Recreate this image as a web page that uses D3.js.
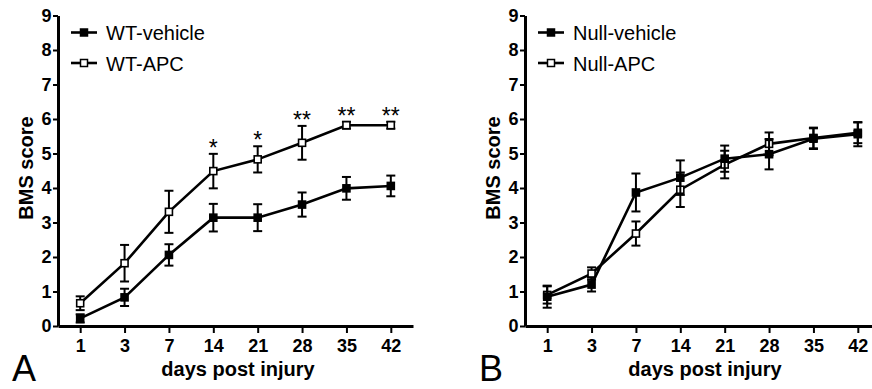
<!DOCTYPE html>
<html>
<head>
<meta charset="utf-8">
<script src="https://cdn.jsdelivr.net/npm/d3@7"></script>
<style>
  body { margin: 0; background: #fff; }
  svg { display: block; font-family: "Liberation Sans", Arial, sans-serif; }
</style>
</head>
<body>
<div id="chart"></div>
<script>
var days = ["1", "3", "7", "14", "21", "28", "35", "42"];
var yTicks = [0, 1, 2, 3, 4, 5, 6, 7, 8, 9];

var wtVehicle = [0.22, 0.83, 2.06, 3.14, 3.14, 3.52, 3.99, 4.06];
var wtVehicleErr = [0.12, 0.25, 0.31, 0.4, 0.39, 0.35, 0.33, 0.3];
var wtApc = [0.66, 1.82, 3.31, 4.49, 4.83, 5.31, 5.82, 5.82];
var wtApcErr = [0.2, 0.53, 0.61, 0.5, 0.38, 0.49, 0.1, 0.1];
var wtStars = ["", "", "", "*", "*", "**", "**", "**"];

var nullVehicle = [0.85, 1.2, 3.87, 4.3, 4.85, 4.98, 5.43, 5.56];
var nullVehicleErr = [0.32, 0.2, 0.55, 0.5, 0.38, 0.44, 0.3, 0.35];
var nullApc = [0.9, 1.52, 2.68, 3.95, 4.68, 5.28, 5.45, 5.6];
var nullApcErr = [0.25, 0.18, 0.35, 0.5, 0.4, 0.33, 0.3, 0.3];

var svgWidth = 872;
var svgHeight = 389;

var svg = d3.select("#chart")
  .append("svg")
  .attr("width", svgWidth)
  .attr("height", svgHeight);

function drawPanel(opts) {
  var left = opts.left;
  var g = svg.append("g");

  var xScale = d3.scalePoint()
    .domain(days)
    .range([left, left + 355])
    .padding(0.5);
  var yScale = d3.scaleLinear()
    .domain([0, 9])
    .range([326, 15.5]);

  // series: draw APC first so vehicle sits on top where they overlap
  opts.series.forEach(function(s) {
    var pts = days.map(function(d, i) {
      return { day: d, v: s.values[i], e: s.errs[i] };
    });

    var eb = g.append("g");
    eb.selectAll("line.v").data(pts).enter().append("line")
      .attr("x1", d => xScale(d.day)).attr("x2", d => xScale(d.day))
      .attr("y1", d => yScale(d.v + d.e)).attr("y2", d => yScale(d.v - d.e))
      .attr("stroke", "#000").attr("stroke-width", 2);
    [1, -1].forEach(function(sign) {
      eb.selectAll("line.c" + sign).data(pts).enter().append("line")
        .attr("x1", d => xScale(d.day) - 4.5).attr("x2", d => xScale(d.day) + 4.5)
        .attr("y1", d => yScale(d.v + sign * d.e)).attr("y2", d => yScale(d.v + sign * d.e))
        .attr("stroke", "#000").attr("stroke-width", 2);
    });

    var line = d3.line().x(d => xScale(d.day)).y(d => yScale(d.v));
    g.append("path").datum(pts)
      .attr("d", line)
      .attr("fill", "none")
      .attr("stroke", "#000")
      .attr("stroke-width", 2.6);

    g.selectAll(null).data(pts).enter().append("rect")
      .attr("x", d => xScale(d.day) - 3.5)
      .attr("y", d => yScale(d.v) - 3.5)
      .attr("width", 7).attr("height", 7)
      .attr("fill", s.filled ? "#000" : "#fff")
      .attr("stroke", "#000")
      .attr("stroke-width", 1.6);

    if (s.stars) {
      g.selectAll(null).data(pts).enter().append("text")
        .attr("x", d => xScale(d.day))
        .attr("y", d => yScale(d.v + d.e) + 2)
        .attr("text-anchor", "middle")
        .attr("font-size", "23px")
        .text((d, i) => s.stars[i]);
    }
  });

  var xAxis = d3.axisBottom(xScale).tickSize(7).tickPadding(6).tickSizeOuter(0);
  var yAxis = d3.axisLeft(yScale).tickValues(yTicks).tickSize(5).tickPadding(1.5).tickSizeOuter(0);

  var xg = g.append("g").attr("transform", "translate(0,326)").call(xAxis);
  var yg = g.append("g").attr("transform", `translate(${left},0)`).call(yAxis);
  [xg, yg].forEach(function(a) {
    a.select(".domain").attr("stroke", "#000").attr("stroke-width", 3);
    a.selectAll(".tick line").attr("stroke", "#000").attr("stroke-width", 2);
    a.selectAll(".tick text")
      .attr("fill", "#000")
      .attr("font-size", "18px")
      .attr("font-weight", "bold")
      .attr("font-family", "'Liberation Sans', Arial, sans-serif");
  });

  g.append("text")
    .attr("transform", `translate(${left - 25},${168}) rotate(-90)`)
    .attr("text-anchor", "middle")
    .attr("font-size", "20px")
    .attr("font-weight", "bold")
    .text("BMS score");

  g.append("text")
    .attr("x", left + 180)
    .attr("y", 376)
    .attr("text-anchor", "middle")
    .attr("font-size", "20px")
    .attr("font-weight", "bold")
    .text("days post injury");

  g.append("text")
    .attr("x", opts.letterX)
    .attr("y", 381)
    .attr("font-size", "36px")
    .text(opts.letter);

  // legend
  var leg = g.append("g").attr("transform", `translate(${left + 13},0)`);
  opts.legend.forEach(function(item, i) {
    var cy = 32.5 + i * 30.5;
    leg.append("line")
      .attr("x1", 0).attr("x2", 26)
      .attr("y1", cy).attr("y2", cy)
      .attr("stroke", "#000").attr("stroke-width", 2.6);
    leg.append("rect")
      .attr("x", 9.5).attr("y", cy - 3.5).attr("width", 7).attr("height", 7)
      .attr("fill", item.filled ? "#000" : "#fff")
      .attr("stroke", "#000").attr("stroke-width", 1.5);
    leg.append("text")
      .attr("x", 35)
      .attr("y", cy + 7.5)
      .attr("font-size", "20px")
      .text(item.name);
  });
}

drawPanel({
  left: 58,
  letter: "A",
  letterX: 12,
  series: [
    { values: wtApc, errs: wtApcErr, filled: false, stars: wtStars },
    { values: wtVehicle, errs: wtVehicleErr, filled: true }
  ],
  legend: [{ name: "WT-vehicle", filled: true }, { name: "WT-APC", filled: false }]
});

drawPanel({
  left: 525,
  letter: "B",
  letterX: 479,
  series: [
    { values: nullApc, errs: nullApcErr, filled: false },
    { values: nullVehicle, errs: nullVehicleErr, filled: true }
  ],
  legend: [{ name: "Null-vehicle", filled: true }, { name: "Null-APC", filled: false }]
});
</script>
</body>
</html>
